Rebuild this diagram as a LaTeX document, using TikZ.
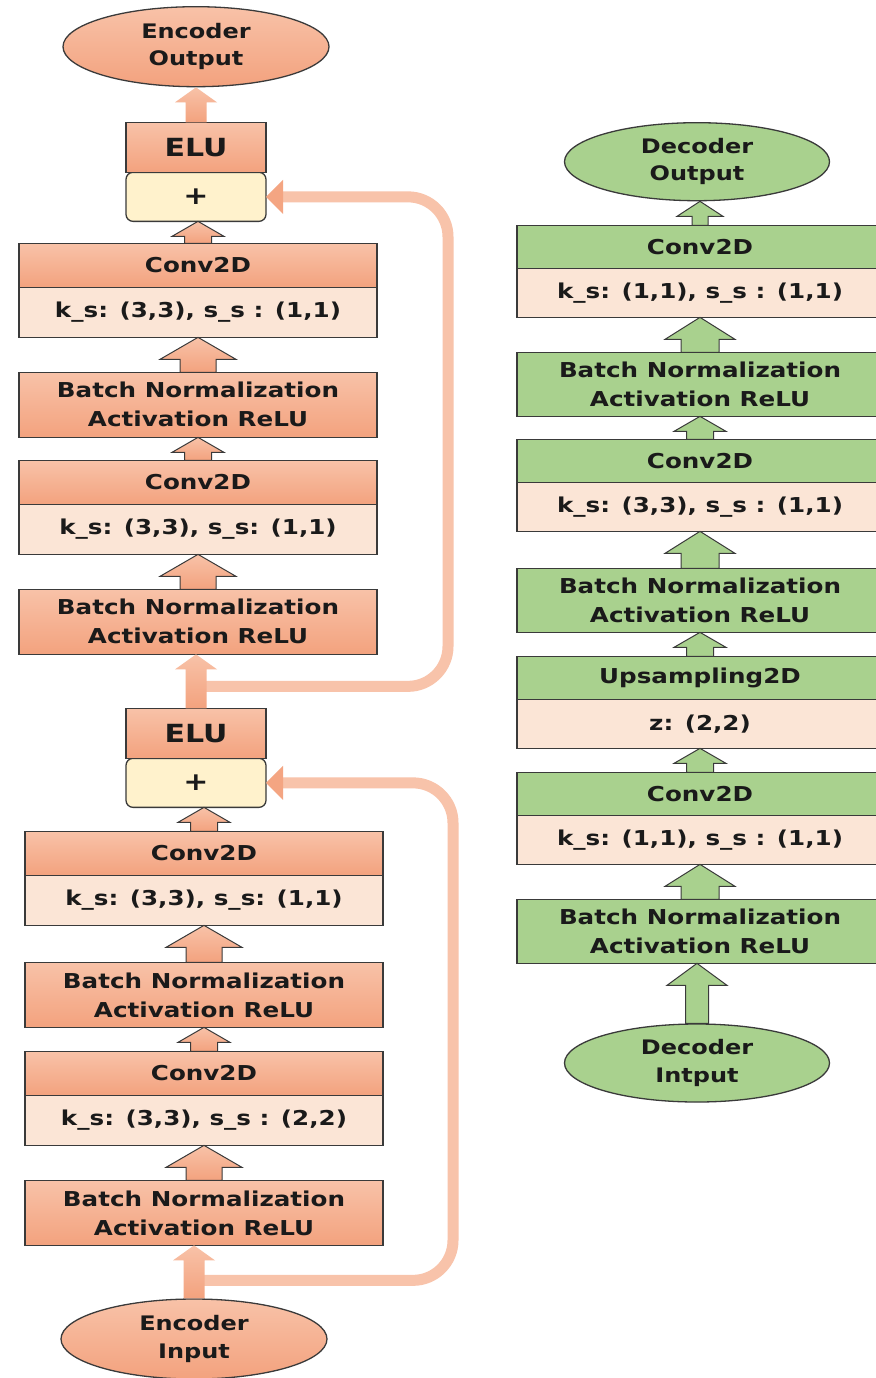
\documentclass[tikz,border=0pt]{standalone}
\usepackage{fontspec}
\newfontfamily\boxfont{DejaVu Sans}[FakeStretch=1.2]
\usepackage{xcolor}
\usepackage{tikz}
\usetikzlibrary{shapes,arrows.meta,positioning,calc}
\definecolor{edge}{HTML}{3A3A3A}
\definecolor{ink}{HTML}{1A1A1A}
\definecolor{encA}{HTML}{F8C2A8}
\definecolor{encB}{HTML}{F3A27E}
\definecolor{parfill}{HTML}{FBE5D6}
\definecolor{plusfill}{HTML}{FFF2CC}
\definecolor{decfill}{HTML}{A9D18E}
\definecolor{skipcol}{HTML}{F8C3AA}
\definecolor{skiphead}{HTML}{F4A582}
\tikzstyle{layer} = [rectangle, draw=edge, line width=1.3pt, inner sep=0pt, outer sep=0pt, align=center, text=ink, font=\boxfont\bfseries\fontsize{20.5}{29}\selectfont]
\tikzstyle{headenc} = [layer, top color=encA, bottom color=encB, minimum width=358pt, minimum height=44pt]
\tikzstyle{parenc} = [layer, fill=parfill, minimum width=358pt, minimum height=50pt]
\tikzstyle{bnenc} = [layer, top color=encA, bottom color=encB, minimum width=358pt, minimum height=65pt]
\tikzstyle{headdec} = [layer, fill=decfill, minimum width=366pt, minimum height=43pt]
\tikzstyle{pardec} = [layer, fill=parfill, minimum width=366pt, minimum height=49pt]
\tikzstyle{bndec} = [layer, fill=decfill, minimum width=366pt, minimum height=64pt]
\tikzstyle{elubox} = [layer, top color=encA, bottom color=encB, minimum width=140pt, minimum height=50pt, font=\boxfont\bfseries\fontsize{25}{30}\selectfont]
\tikzstyle{plusbox} = [layer, fill=plusfill, rounded corners=7pt, minimum width=140pt, minimum height=49pt, font=\boxfont\bfseries\fontsize{25}{30}\selectfont]
\tikzstyle{oval} = [ellipse, draw=edge, line width=1.3pt, inner sep=0pt, align=center, text=ink, font=\boxfont\bfseries\fontsize{20}{27.5}\selectfont]
\tikzstyle{encell} = [oval, top color=encA, bottom color=encB, minimum width=266pt, minimum height=80pt]
\tikzstyle{decell} = [oval, fill=decfill, minimum width=265pt, minimum height=78pt]
\tikzstyle{arrenc} = [draw=edge, line width=1pt, top color=encA, bottom color=encB]
\tikzstyle{tallenc} = [top color=encA, bottom color=encB]
\tikzstyle{arrdec} = [draw=edge, line width=1pt, fill=decfill]
\tikzstyle{skip} = [draw=skipcol, line width=11pt, rounded corners=40pt, -{Triangle[length=17pt, width=34pt, line width=0pt, color=skiphead, fill=skiphead]}]
% block arrow from the top of #2 up to the bottom of #3: shaft, head half widths, head length
\newcommand{\flowup}[6][arrenc]{%
  \path[#1] let \p1=(#2.north), \p2=(#3.south) in
    (\x1-#4,\y1) -- (\x1-#4,\y2-#6) -- (\x1-#5,\y2-#6) -- (\x1,\y2)
    -- (\x1+#5,\y2-#6) -- (\x1+#4,\y2-#6) -- (\x1+#4,\y1) -- cycle;}

\begin{document}
\begin{tikzpicture}[x=1pt, y=-1pt]
\fill[white] (0,0) rectangle (875,1378);
\useasboundingbox (0,0) rectangle (875,1378);

% encoder, lower block
\node [encell] (encin) at (194,1339) {Encoder\\Input};
\node [bnenc, above=53pt of encin, xshift=10pt] (bn4) {Batch Normalization\\Activation ReLU};
\node [parenc, above=35pt of bn4] (conv4par) {k\_s: (3,3), s\_s : (2,2)};
\node [headenc, above=0pt of conv4par] (conv4) {Conv2D};
\node [bnenc, above=24pt of conv4] (bn3) {Batch Normalization\\Activation ReLU};
\node [parenc, above=37pt of bn3] (conv3par) {k\_s: (3,3), s\_s: (1,1)};
\node [headenc, above=0pt of conv3par] (conv3) {Conv2D};
\node [plusbox, above=24pt of conv3, xshift=-8pt] (plus2) {+};
\node [elubox, above=0pt of plus2] (elu2) {ELU};

% encoder, upper block
\node [bnenc, above=54pt of elu2, xshift=2pt] (bn2) {Batch Normalization\\Activation ReLU};
\node [parenc, above=35pt of bn2] (conv2par) {k\_s: (3,3), s\_s: (1,1)};
\node [headenc, above=0pt of conv2par] (conv2) {Conv2D};
\node [bnenc, above=23pt of conv2] (bn1) {Batch Normalization\\Activation ReLU};
\node [parenc, above=35pt of bn1] (conv1par) {k\_s: (3,3), s\_s : (1,1)};
\node [headenc, above=0pt of conv1par] (conv1) {Conv2D};
\node [plusbox, above=22pt of conv1, xshift=-2pt] (plus1) {+};
\node [elubox, above=0pt of plus1] (elu1) {ELU};
\node [encell, above=35pt of elu1] (encout) {Encoder\\Output};

% decoder
\node [decell] (decin) at (697,1063) {Decoder\\Intput};
\node [bndec, above=60pt of decin, xshift=3pt] (bnd3) {Batch Normalization\\Activation ReLU};
\node [pardec, above=35pt of bnd3] (convd3par) {k\_s: (1,1), s\_s : (1,1)};
\node [headdec, above=0pt of convd3par] (convd3) {Conv2D};
\node [pardec, above=24pt of convd3] (uppar) {z: (2,2)};
\node [headdec, above=0pt of uppar] (up) {Upsampling2D};
\node [bndec, above=24pt of up] (bnd2) {Batch Normalization\\Activation ReLU};
\node [pardec, above=37pt of bnd2] (convd2par) {k\_s: (3,3), s\_s : (1,1)};
\node [headdec, above=0pt of convd2par] (convd2) {Conv2D};
\node [bndec, above=23pt of convd2] (bnd1) {Batch Normalization\\Activation ReLU};
\node [pardec, above=35pt of bnd1] (convd1par) {k\_s: (1,1), s\_s : (1,1)};
\node [headdec, above=0pt of convd1par] (convd1) {Conv2D};
\node [decell, above=24pt of convd1, xshift=-3pt] (decout) {Decoder\\Output};

% residual connections
\coordinate (tap2) at ($(encin.north)+(0,-18)$);
\coordinate (turn2) at ($(plus2.east)+(187,0)$);
\draw [skip] (tap2) -- (tap2 -| turn2) -- (turn2) -- (plus2.east);
\coordinate (tap1) at ($(elu2.north)+(0,-22)$);
\coordinate (turn1) at ($(plus1.east)+(182,0)$);
\draw [skip] (tap1) -- (tap1 -| turn1) -- (turn1) -- (plus1.east);

\flowup[tallenc]{encin}{bn4}{10.5pt}{21pt}{15pt}
\flowup{bn4}{conv4par}{18pt}{38pt}{22pt}
\flowup{conv4}{bn3}{13.5pt}{26pt}{15pt}
\flowup{bn3}{conv3par}{18pt}{38pt}{22pt}
\flowup{conv3}{plus2}{13.5pt}{26pt}{15pt}
\flowup[tallenc]{elu2}{bn2}{10.5pt}{21pt}{15pt}
\flowup{bn2}{conv2par}{18pt}{38pt}{22pt}
\flowup{conv2}{bn1}{13.5pt}{26pt}{15pt}
\flowup{bn1}{conv1par}{18pt}{38pt}{22pt}
\flowup{conv1}{plus1}{13.5pt}{26pt}{15pt}
\flowup[tallenc]{elu1}{encout}{10.5pt}{21pt}{15pt}

\flowup[arrdec]{decin}{bnd3}{11.5pt}{30pt}{22pt}
\flowup[arrdec]{bnd3}{convd3par}{19pt}{35pt}{22pt}
\flowup[arrdec]{convd3}{uppar}{13.5pt}{26pt}{15pt}
\flowup[arrdec]{up}{bnd2}{13.5pt}{26pt}{15pt}
\flowup[arrdec]{bnd2}{convd2par}{19pt}{35pt}{22pt}
\flowup[arrdec]{convd2}{bnd1}{13.5pt}{26pt}{15pt}
\flowup[arrdec]{bnd1}{convd1par}{19pt}{35pt}{22pt}
\flowup[arrdec]{convd1}{decout}{8pt}{23pt}{15pt}
\end{tikzpicture}
\end{document}
